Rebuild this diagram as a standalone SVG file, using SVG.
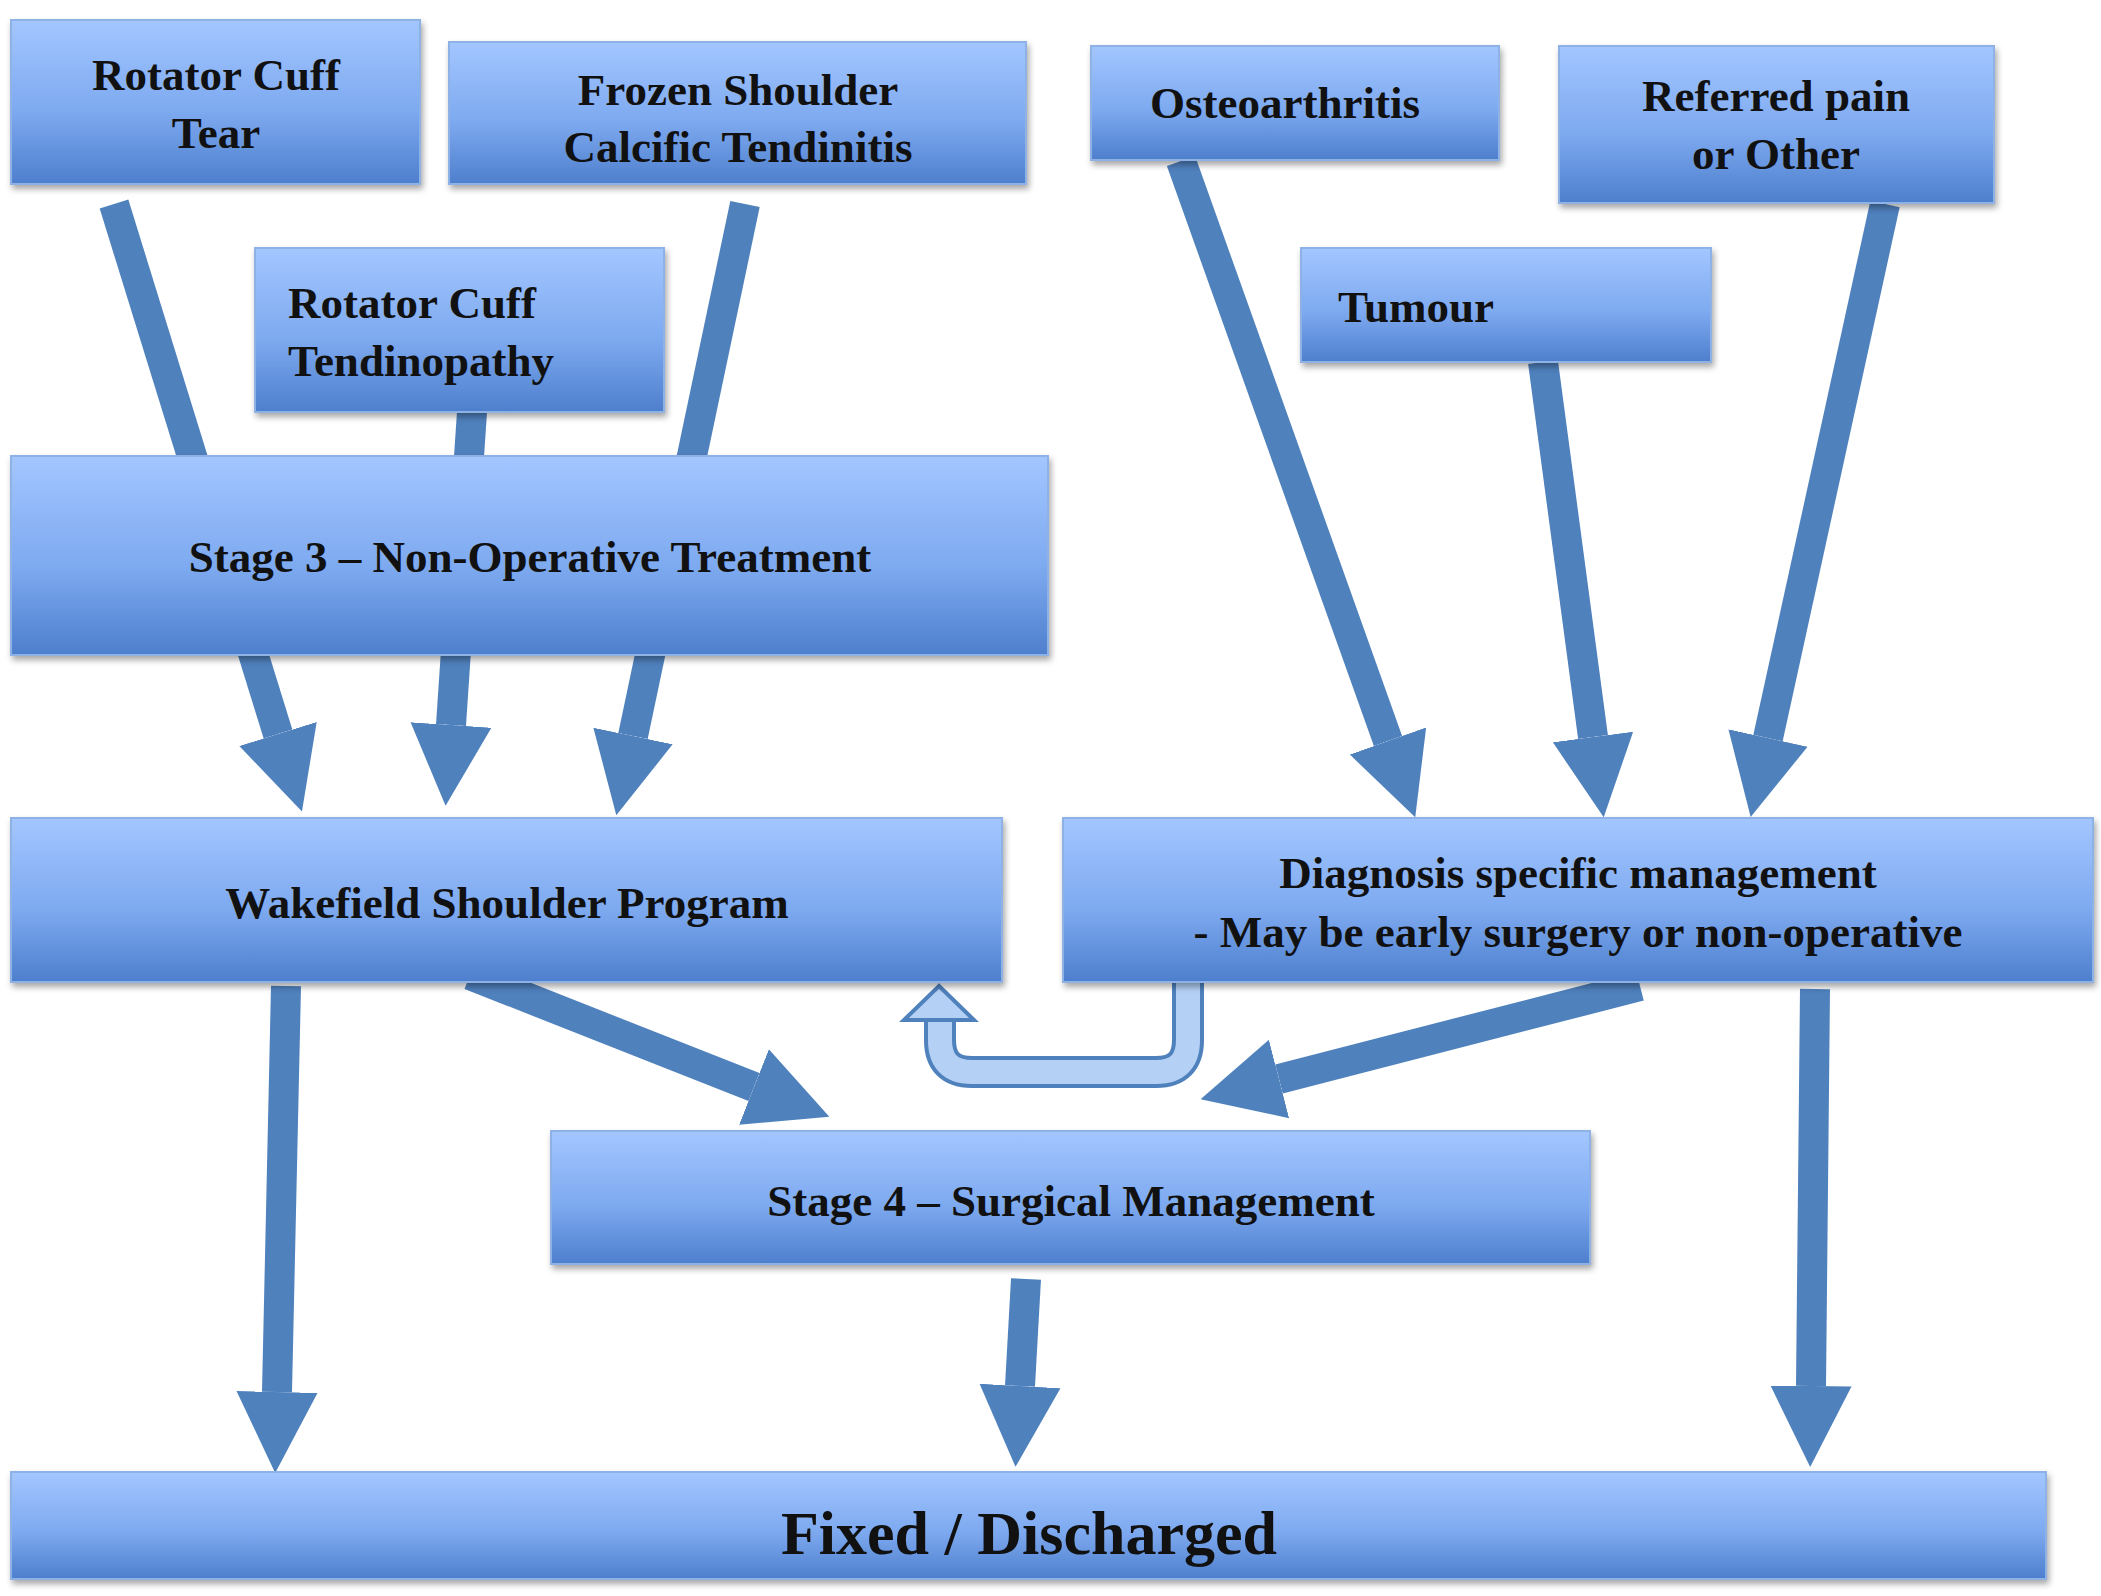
<svg xmlns="http://www.w3.org/2000/svg" width="2101" height="1596" viewBox="0 0 2101 1596">
<defs>
<linearGradient id="g" x1="0" y1="0" x2="0" y2="1">
<stop offset="0" stop-color="#a3c6ff"/><stop offset="0.55" stop-color="#7eaaf0"/><stop offset="1" stop-color="#4e7fcd"/>
</linearGradient>
<filter id="sh" x="-5%" y="-10%" width="110%" height="130%"><feDropShadow dx="2" dy="4" stdDeviation="3" flood-color="#000" flood-opacity="0.35"/></filter>
<marker id="ah" viewBox="0 0 10 10" markerWidth="2.7" markerHeight="2.9" refX="0" refY="5" orient="auto" markerUnits="strokeWidth"><path d="M0,0 L10,5 L0,10z" fill="#4f81bd"/></marker>
</defs>
<style>
.b{fill:url(#g);stroke:#8fb2e6;stroke-width:2;filter:url(#sh)}
.t{font-family:"Liberation Serif","DejaVu Serif",serif;font-weight:bold;font-size:45px;fill:#111}
.c{text-anchor:middle}
.a{stroke:#4f81bd;stroke-width:30;marker-end:url(#ah)}
</style>
<rect width="2101" height="1596" fill="#fff"/>
<g id="connectors">
<line class="a" x1="114" y1="204" x2="278" y2="734"/>
<line class="a" x1="472" y1="412" x2="451" y2="725"/>
<line class="a" x1="745" y1="204" x2="633" y2="736"/>
<line class="a" x1="1181" y1="161" x2="1388" y2="741"/>
<line class="a" x1="1543" y1="362" x2="1593" y2="737"/>
<line class="a" x1="1885" y1="204" x2="1768" y2="738"/>
<line class="a" x1="470" y1="975" x2="754" y2="1087"/>
<line class="a" x1="1640" y1="986" x2="1279" y2="1079"/>
<line class="a" x1="286" y1="986" x2="277" y2="1392"/>
<line class="a" x1="1026" y1="1279" x2="1020" y2="1386"/>
<line class="a" x1="1815" y1="989" x2="1811" y2="1386"/>
<path d="M1188,980 V1040 Q1188,1072 1156,1072 H972 Q940,1072 940,1040 V1018" fill="none" stroke="#4f81bd" stroke-width="32"/>
<path d="M1188,978 V1040 Q1188,1072 1156,1072 H972 Q940,1072 940,1040 V1016" fill="none" stroke="#b4d0f5" stroke-width="24"/>
<polygon points="939,986 974,1020 904,1020" fill="#b4d0f5" stroke="#4f81bd" stroke-width="4"/>
</g>
<g id="n1"><rect class="b" x="11" y="20" width="409" height="164"/><text class="t c" x="216" y="90">Rotator Cuff</text><text class="t c" x="216" y="148">Tear</text></g>
<g id="n2"><rect class="b" x="449" y="42" width="577" height="142"/><text class="t c" x="738" y="105">Frozen Shoulder</text><text class="t c" x="738" y="162">Calcific Tendinitis</text></g>
<g id="n3"><rect class="b" x="1091" y="46" width="408" height="114"/><text class="t c" x="1285" y="118">Osteoarthritis</text></g>
<g id="n4"><rect class="b" x="1559" y="46" width="435" height="157"/><text class="t c" x="1776" y="111">Referred pain</text><text class="t c" x="1776" y="169">or Other</text></g>
<g id="n5"><rect class="b" x="255" y="248" width="409" height="164"/><text class="t" x="288" y="318">Rotator Cuff</text><text class="t" x="288" y="376">Tendinopathy</text></g>
<g id="n6"><rect class="b" x="1301" y="248" width="410" height="114"/><text class="t" x="1338" y="322">Tumour</text></g>
<g id="n7"><rect class="b" x="11" y="456" width="1037" height="199"/><text class="t c" x="530" y="572">Stage 3 – Non-Operative Treatment</text></g>
<g id="n8"><rect class="b" x="11" y="818" width="991" height="164"/><text class="t c" x="507" y="918">Wakefield Shoulder Program</text></g>
<g id="n9"><rect class="b" x="1063" y="818" width="1030" height="164"/><text class="t c" x="1578" y="888">Diagnosis specific management</text><text class="t c" x="1578" y="947">- May be early surgery or non-operative</text></g>
<g id="n10"><rect class="b" x="551" y="1131" width="1039" height="133"/><text class="t c" x="1071" y="1216">Stage 4 – Surgical Management</text></g>
<g id="n11"><rect class="b" x="11" y="1472" width="2035" height="107"/><text class="t c" x="1029" y="1554" style="font-size:62px">Fixed / Discharged</text></g>
</svg>
